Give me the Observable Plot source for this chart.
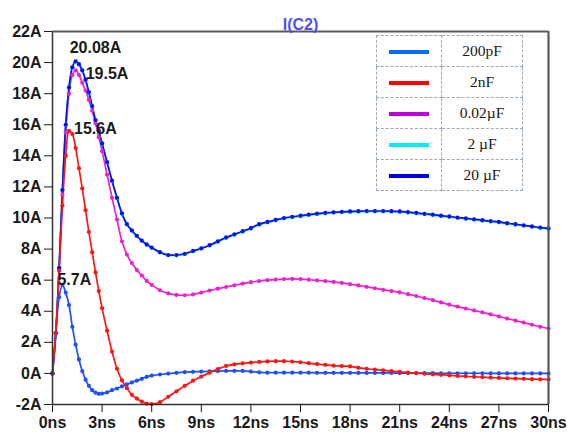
<!DOCTYPE html>
<html>
<head>
<meta charset="utf-8">
<script src="https://cdn.jsdelivr.net/npm/d3@7"></script>
<script src="https://cdn.jsdelivr.net/npm/@observablehq/plot@0.6"></script>
<style>
  html, body { margin: 0; padding: 0; background: #fff; }
  #wrap { position: relative; width: 567px; height: 436px; }
  #legend {
    position: absolute; left: 376px; top: 35px; border-collapse: collapse;
    background: #fff; font-family: "Liberation Serif", "Times New Roman", serif;
    font-size: 15.5px; color: #1a1a1a;
  }
  #legend td { border: 1px dashed #9aaabb; height: 30px; padding: 0; text-align: center; }
  #legend td.sw { width: 64px; }
  #legend td.lb { width: 80px; }
  #legend span.line { display: inline-block; width: 40px; height: 4px; vertical-align: middle; }
</style>
</head>
<body>
<div id="wrap"></div>
<script>
// ---- data ----
const title = "I(C2)";
const seriesNames = ["200pF", "2nF", "0.02µF", "2 µF", "20 µF"];
const seriesColors = ["#1f50f2", "#ff1414", "#ee22cc", "#00e0ea", "#1010e6"];
const legendColors = ["#0a6cf5", "#ff0000", "#c000d8", "#00f0f0", "#0000dd"];

const timeNs = [0,0.2,0.4,0.6,0.8,1.0,1.2,1.4,1.6,1.8,2.0,2.2,2.4,2.6,2.8,3.0,
  3.3,3.6,3.9,4.2,4.5,4.8,5.1,5.4,5.7,6.0,
  6.5,7,7.5,8,8.5,9,9.5,10,10.5,11,
  11.5,12,12.5,13,13.5,14,14.5,15,15.5,16,
  16.5,17,17.5,18,18.5,19,19.5,20,20.5,21,
  21.5,22,22.5,23,23.5,24,24.5,25,25.5,26,
  26.5,27,27.5,28,28.5,29,29.5,30];

const i200pF = [0,2.6,4.9,5.7,5.2,4.4,3.0,1.85,0.9,0.15,-0.4,-0.8,-1.08,-1.24,-1.31,-1.3,
  -1.22,-1.08,-0.97,-0.84,-0.7,-0.58,-0.47,-0.35,-0.22,-0.14,
  -0.07,-0.01,0.04,0.08,0.1,0.12,0.14,0.15,0.16,0.16,
  0.16,0.12,0.07,0.05,0.05,0.05,0.05,0.05,0.05,0.04,
  0.04,0.04,0.04,0.03,0.03,0.03,0.03,0.03,0.03,0.02,
  0.02,0.02,0.02,0.02,0.01,0.01,0.01,0.01,0.01,0.01,
  0.0,0.0,0.0,0.0,0.0,0.0,0.0,0.0];

const i2nF = [0,2.6,6.6,10.8,14.0,15.6,15.4,14.5,13.2,11.9,10.5,9.1,7.8,6.5,5.3,4.2,
  2.75,1.4,0.3,-0.45,-0.95,-1.38,-1.62,-1.82,-1.94,-1.97,
  -1.85,-1.5,-1.15,-0.8,-0.47,-0.2,0.05,0.28,0.48,0.58,
  0.65,0.7,0.74,0.77,0.79,0.79,0.76,0.72,0.66,0.6,
  0.55,0.5,0.47,0.45,0.36,0.3,0.25,0.2,0.15,0.1,
  0.06,0.02,-0.02,-0.06,-0.09,-0.12,-0.16,-0.19,-0.22,-0.24,
  -0.27,-0.29,-0.31,-0.33,-0.35,-0.37,-0.38,-0.39];

const i002uF = [0,2.6,6.7,11.5,15.5,18.0,19.2,19.5,19.2,18.7,18.2,17.6,16.9,16.1,15.2,14.3,
  12.8,11.3,9.9,8.5,7.65,7.1,6.65,6.3,5.95,5.7,
  5.35,5.15,5.05,5.03,5.08,5.2,5.33,5.45,5.56,5.67,
  5.78,5.87,5.94,6.0,6.04,6.07,6.08,6.07,6.03,5.99,
  5.94,5.89,5.82,5.74,5.66,5.57,5.48,5.38,5.3,5.22,
  5.1,4.98,4.85,4.72,4.57,4.42,4.3,4.17,4.05,3.93,
  3.8,3.67,3.53,3.4,3.27,3.13,3.0,2.89];

const i2uF = [0,2.6,6.8,11.8,16.0,18.4,19.7,20.06,19.88,19.48,18.88,18.08,17.18,16.28,15.58,14.78,
  13.58,12.38,11.28,10.28,9.58,9.18,8.83,8.53,8.28,8.08,
  7.78,7.6,7.6,7.68,7.86,8.03,8.23,8.47,8.72,8.92,
  9.12,9.32,9.57,9.72,9.85,9.97,10.05,10.12,10.19,10.25,
  10.3,10.34,10.37,10.39,10.41,10.42,10.42,10.42,10.41,10.39,
  10.35,10.3,10.24,10.19,10.12,10.07,10.0,9.95,9.89,9.83,
  9.77,9.72,9.64,9.57,9.5,9.43,9.36,9.3];

const i20uF = [0,2.6,6.8,11.8,16.0,18.4,19.7,20.08,19.9,19.5,18.9,18.1,17.2,16.3,15.6,14.8,
  13.6,12.4,11.3,10.3,9.6,9.2,8.85,8.55,8.3,8.1,
  7.8,7.62,7.62,7.7,7.88,8.05,8.25,8.5,8.75,8.95,
  9.15,9.35,9.6,9.75,9.88,10.0,10.08,10.15,10.22,10.28,
  10.33,10.37,10.4,10.42,10.44,10.45,10.45,10.45,10.44,10.42,
  10.38,10.33,10.27,10.22,10.15,10.1,10.03,9.98,9.92,9.86,
  9.8,9.75,9.67,9.6,9.53,9.46,9.39,9.33];

const xTicks = [0,3,6,9,12,15,18,21,24,27,30];
const yTicks = [-2,0,2,4,6,8,10,12,14,16,18,20,22];
const peakLabels = ["5.7A", "15.6A", "19.5A", "20.08A"];

// ---- build table ----
const seriesValues = {"200pF": i200pF, "2nF": i2nF, "0.02µF": i002uF, "2 µF": i2uF, "20 µF": i20uF};
const drawOrder = ["0.02µF", "2 µF", "20 µF", "200pF", "2nF"];
const rows = [];
for (const s of drawOrder) {
  seriesValues[s].forEach((v, k) => rows.push({series: s, t: timeNs[k], i: v}));
}
function peakOf(s) {
  const vals = seriesValues[s];
  const k = d3.maxIndex(vals);
  return {t: timeNs[k], i: vals[k]};
}
const lab = (s, text) => [{...peakOf(s), text}];

const font = "'Liberation Sans', Arial, sans-serif";

const chart = Plot.plot({
  width: 567, height: 436,
  marginLeft: 52, marginRight: 19, marginTop: 31, marginBottom: 32,
  style: {fontFamily: font, background: "white", overflow: "visible"},
  x: {domain: [0, 30]},
  y: {domain: [-2, 22]},
  color: {domain: seriesNames, range: seriesColors},
  marks: [
    Plot.line(rows, {x: "t", y: "i", z: "series", stroke: "series", curve: "catmull-rom", strokeWidth: 1.7}),
    Plot.dot(rows, {x: "t", y: "i", fill: "series", r: 2.1}),
    Plot.ruleX([0], {stroke: "#333", strokeWidth: 1.5}),
    Plot.ruleY([-2], {stroke: "#333", strokeWidth: 1.5}),
    Plot.ruleY([22], {stroke: "#5a5a5a", strokeWidth: 2.2}),
    Plot.ruleX([30], {stroke: "#5a5a5a", strokeWidth: 2.2}),
    Plot.axisY({ticks: yTicks, tickFormat: d => d + "A", tickSize: 8, tickPadding: 3,
      fontSize: 16, fontWeight: "bold", color: "#1a1a1a", label: null}),
    Plot.axisX({ticks: xTicks, tickFormat: d => d + "ns", tickSize: 8, tickPadding: 4,
      fontSize: 16, fontWeight: "bold", color: "#1a1a1a", label: null}),
    Plot.text(lab("20 µF", peakLabels[3]), {x: "t", y: "i", text: "text", textAnchor: "start",
      dx: -6, dy: -13, fontSize: 16, fontWeight: "bold", fill: "#1a1a1a"}),
    Plot.text(lab("0.02µF", peakLabels[2]), {x: "t", y: "i", text: "text", textAnchor: "start",
      dx: 10, dy: 4, fontSize: 16, fontWeight: "bold", fill: "#1a1a1a"}),
    Plot.text(lab("2nF", peakLabels[1]), {x: "t", y: "i", text: "text", textAnchor: "start",
      dx: 5, dy: -2, fontSize: 16, fontWeight: "bold", fill: "#1a1a1a"}),
    Plot.text(lab("200pF", peakLabels[0]), {x: "t", y: "i", text: "text", textAnchor: "start",
      dx: -5, dy: -5, fontSize: 16, fontWeight: "bold", fill: "#1a1a1a"}),
    Plot.text([title], {frameAnchor: "top", dy: -13, fontSize: 16, fontWeight: "bold", fill: "#5050ee"})
  ]
});

const wrap = document.getElementById("wrap");
wrap.appendChild(chart);

// legend table
const table = document.createElement("table");
table.id = "legend";
seriesNames.forEach((name, k) => {
  const tr = document.createElement("tr");
  const a = document.createElement("td"); a.className = "sw";
  const sp = document.createElement("span"); sp.className = "line"; sp.style.background = legendColors[k];
  a.appendChild(sp);
  const b = document.createElement("td"); b.className = "lb"; b.textContent = name;
  tr.appendChild(a); tr.appendChild(b);
  table.appendChild(tr);
});
wrap.appendChild(table);
</script>
</body>
</html>
